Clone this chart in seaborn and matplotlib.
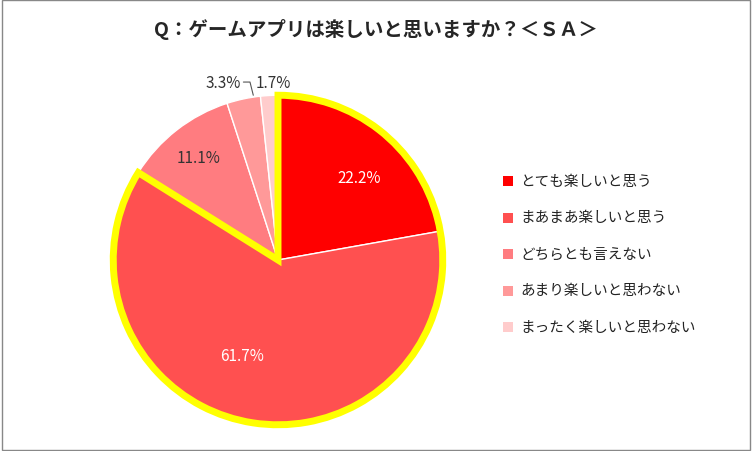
import matplotlib
matplotlib.use("Agg")
import matplotlib.pyplot as plt
import seaborn as sns
from matplotlib.patches import Wedge, Rectangle

sns.set_theme(style="white")
plt.rcParams['font.family'] = ['Noto Sans CJK JP', 'DejaVu Sans']

labels = ["とても楽しいと思う", "まあまあ楽しいと思う", "どちらとも言えない", "あまり楽しいと思わない", "まったく楽しいと思わない"]
values = [22.2, 61.7, 11.1, 3.3, 1.7]
colors = ["#FF0000", "#FF5050", "#FF7C80", "#FF9999", "#FFCCCC"]

fig = plt.figure(figsize=(7.52, 4.52), dpi=100)
fig.patches.append(Rectangle((0.002, 0.002), 0.996, 0.996, transform=fig.transFigure,
                             fill=False, edgecolor="#888888", lw=1))
fig.text(0.5, 0.92, "Q：ゲームアプリは楽しいと思いますか？＜ＳＡ＞", ha="center",
         fontsize=14, fontweight="bold")

ax = fig.add_axes([105/752, 18/452, 346/752, 346/452])
wedges, _ = ax.pie(values, colors=colors, startangle=90, counterclock=False,
                   wedgeprops=dict(edgecolor="white", linewidth=1))
ax.set_aspect("equal")
total = sum(values)
ang = (values[0] + values[1]) / total * 360
ax.add_patch(Wedge((0, 0), 1.0, 90 - ang, 90, fill=False, edgecolor="#FFFF00", lw=5, joinstyle="miter"))

txt = [(0.49, 0.5, "white"), (-0.22, -0.58, "white"), (-0.48, 0.62, "#333333")]
for (x, y, c), v in zip(txt, values[:3]):
    ax.text(x, y, f"{v}%", ha="center", va="center", fontsize=11, color=c)
ax.text(-0.33, 1.08, f"{values[3]}%", ha="center", va="center", fontsize=11, color="#333333", clip_on=False)
ax.text(-0.03, 1.08, f"{values[4]}%", ha="center", va="center", fontsize=11, color="#333333", clip_on=False)
ax.plot([-0.21, -0.17, -0.15], [1.08, 1.08, 1.0], color="#555555", lw=0.8, clip_on=False)
ax.set_xlim(-1.05, 1.05); ax.set_ylim(-1.05, 1.05)

for i, (lab, c) in enumerate(zip(labels, colors)):
    y = 1 - (182 + i * 36.5) / 452
    fig.patches.append(Rectangle((503/752, y - 0.012), 0.013, 0.022, transform=fig.transFigure,
                                 facecolor=c, edgecolor="none"))
    fig.text(520/752, y, lab, va="center", fontsize=10.5, color="#222222")

fig.savefig("out.png", dpi=100)
